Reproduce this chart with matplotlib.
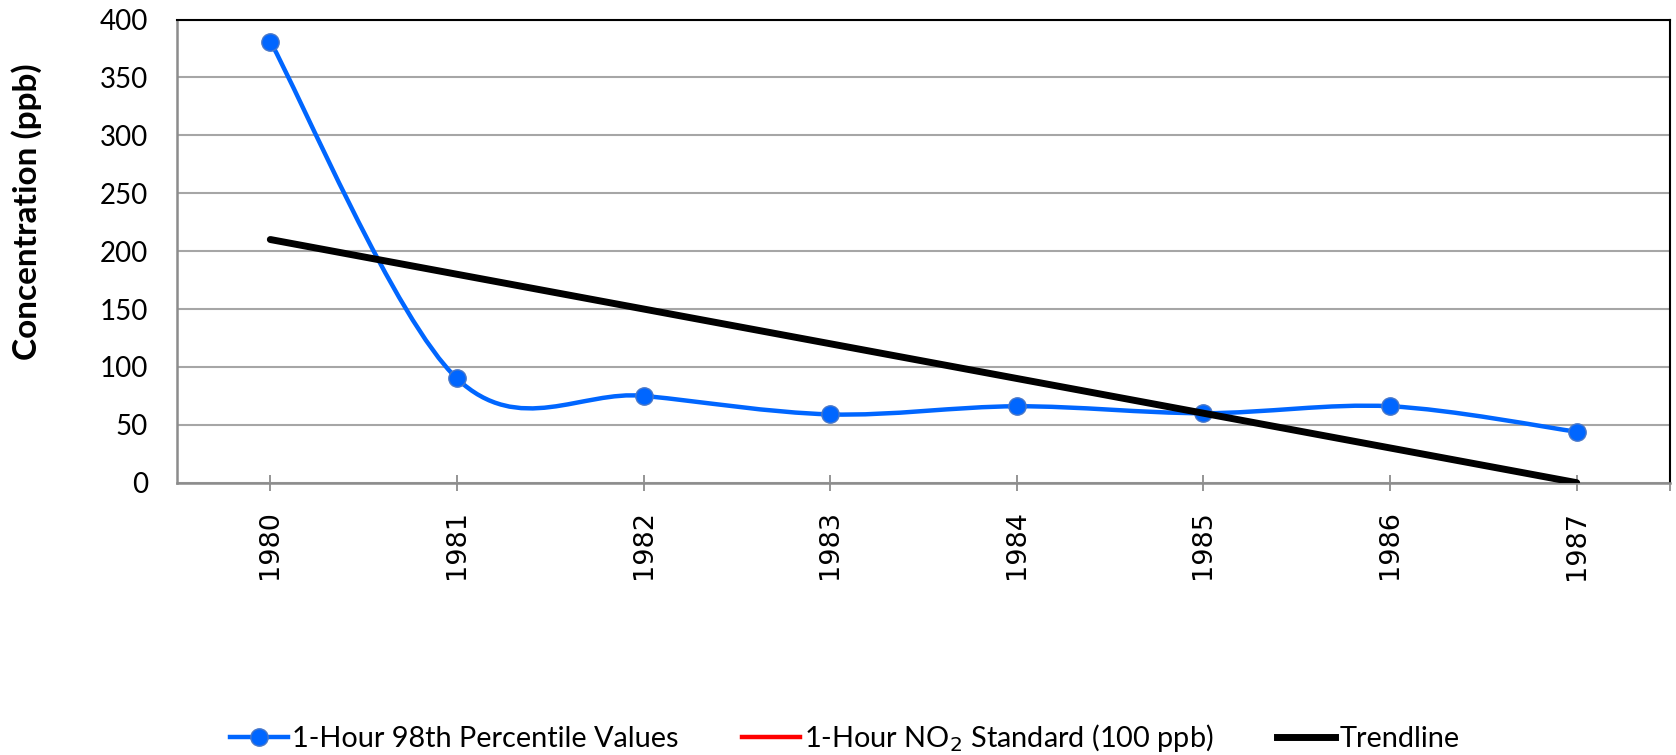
import matplotlib
matplotlib.use("Agg")
import matplotlib.pyplot as plt
from matplotlib.path import Path
from matplotlib.patches import PathPatch
from matplotlib.lines import Line2D

years = ["1980", "1981", "1982", "1983", "1984", "1985", "1986", "1987"]
values_98th = [381, 90, 75, 59, 66, 60, 66, 44]
trendline = [210, 180, 150, 120, 90, 60, 30, 0]
yticks = [0, 50, 100, 150, 200, 250, 300, 350, 400]

BLUE = "#0066FF"
RED = "#FF0000"

fig = plt.figure(figsize=(16.76, 7.55), dpi=100)
ax = fig.add_axes([177/1676, 1-482.7/755, (1670-177)/1676, (482.7-19.5)/755])

x = list(range(len(years)))

# Excel-like smoothed line (cubic Bezier through data points)
verts = [(x[0], values_98th[0])]
codes = [Path.MOVETO]
n = len(x)
for i in range(n - 1):
    p0 = (x[max(i-1, 0)], values_98th[max(i-1, 0)])
    p1 = (x[i], values_98th[i])
    p2 = (x[i+1], values_98th[i+1])
    p3 = (x[min(i+2, n-1)], values_98th[min(i+2, n-1)])
    c1 = (p1[0] + (p2[0]-p0[0])/6, p1[1] + (p2[1]-p0[1])/6)
    c2 = (p2[0] - (p3[0]-p1[0])/6, p2[1] - (p3[1]-p1[1])/6)
    verts += [c1, c2, p2]
    codes += [Path.CURVE4]*3
ax.add_patch(PathPatch(Path(verts, codes), facecolor="none", edgecolor=BLUE,
                       lw=3.2, zorder=3, capstyle="round", joinstyle="round"))
ax.plot(x, values_98th, ls="none", marker="o", ms=12.5, mfc=BLUE, mec="#4A78C8",
        mew=1.0, zorder=4)

ax.plot(x, trendline, color="black", lw=5, zorder=5, solid_capstyle="round")

ax.set_xlim(-0.5, 7.5)
ax.set_ylim(0, 400)
ax.set_yticks(yticks)
ax.set_yticklabels([str(v) for v in yticks], fontfamily="Lato", fontsize=20)
ax.set_xticks(x)
ax.set_xticklabels(years, rotation=90, fontfamily="DejaVu Sans", fontsize=19.5)
ax.set_xticks([7.5], minor=True)
ax.tick_params(axis="y", length=0, pad=21)
ax.tick_params(axis="x", which="both", direction="inout", length=12, width=1.3,
               color="#8C8C8C", pad=14)
ax.grid(axis="y", color="#A6A6A6", lw=1.5, zorder=1)
ax.set_axisbelow(True)

for s in ["left", "bottom"]:
    ax.spines[s].set_color("#8C8C8C")
    ax.spines[s].set_linewidth(1.8)
for s in ["top", "right"]:
    ax.spines[s].set_color("black")
    ax.spines[s].set_linewidth(1.5)

fig.text(27/1676, 1-212/755, "Concentration (ppb)", rotation=90, ha="center",
         va="center", fontfamily="Lato", fontweight="bold", fontsize=24)

handles = [
    Line2D([], [], color=BLUE, lw=3.2, marker="o", ms=12.5, mfc=BLUE, mec="#4A78C8"),
    Line2D([], [], color=RED, lw=3.2),
    Line2D([], [], color="black", lw=5),
]
labels = ["1-Hour 98th Percentile Values", "1-Hour NO$_2$ Standard (100 ppb)", "Trendline"]
fig.legend(handles, labels, loc="center", bbox_to_anchor=(0.504, 1-738/755), ncol=3,
           frameon=False, prop={"family": "Lato", "size": 20.8},
           handlelength=2.0, handletextpad=0.15, columnspacing=2.2)

fig.savefig("out.png", dpi=100)
